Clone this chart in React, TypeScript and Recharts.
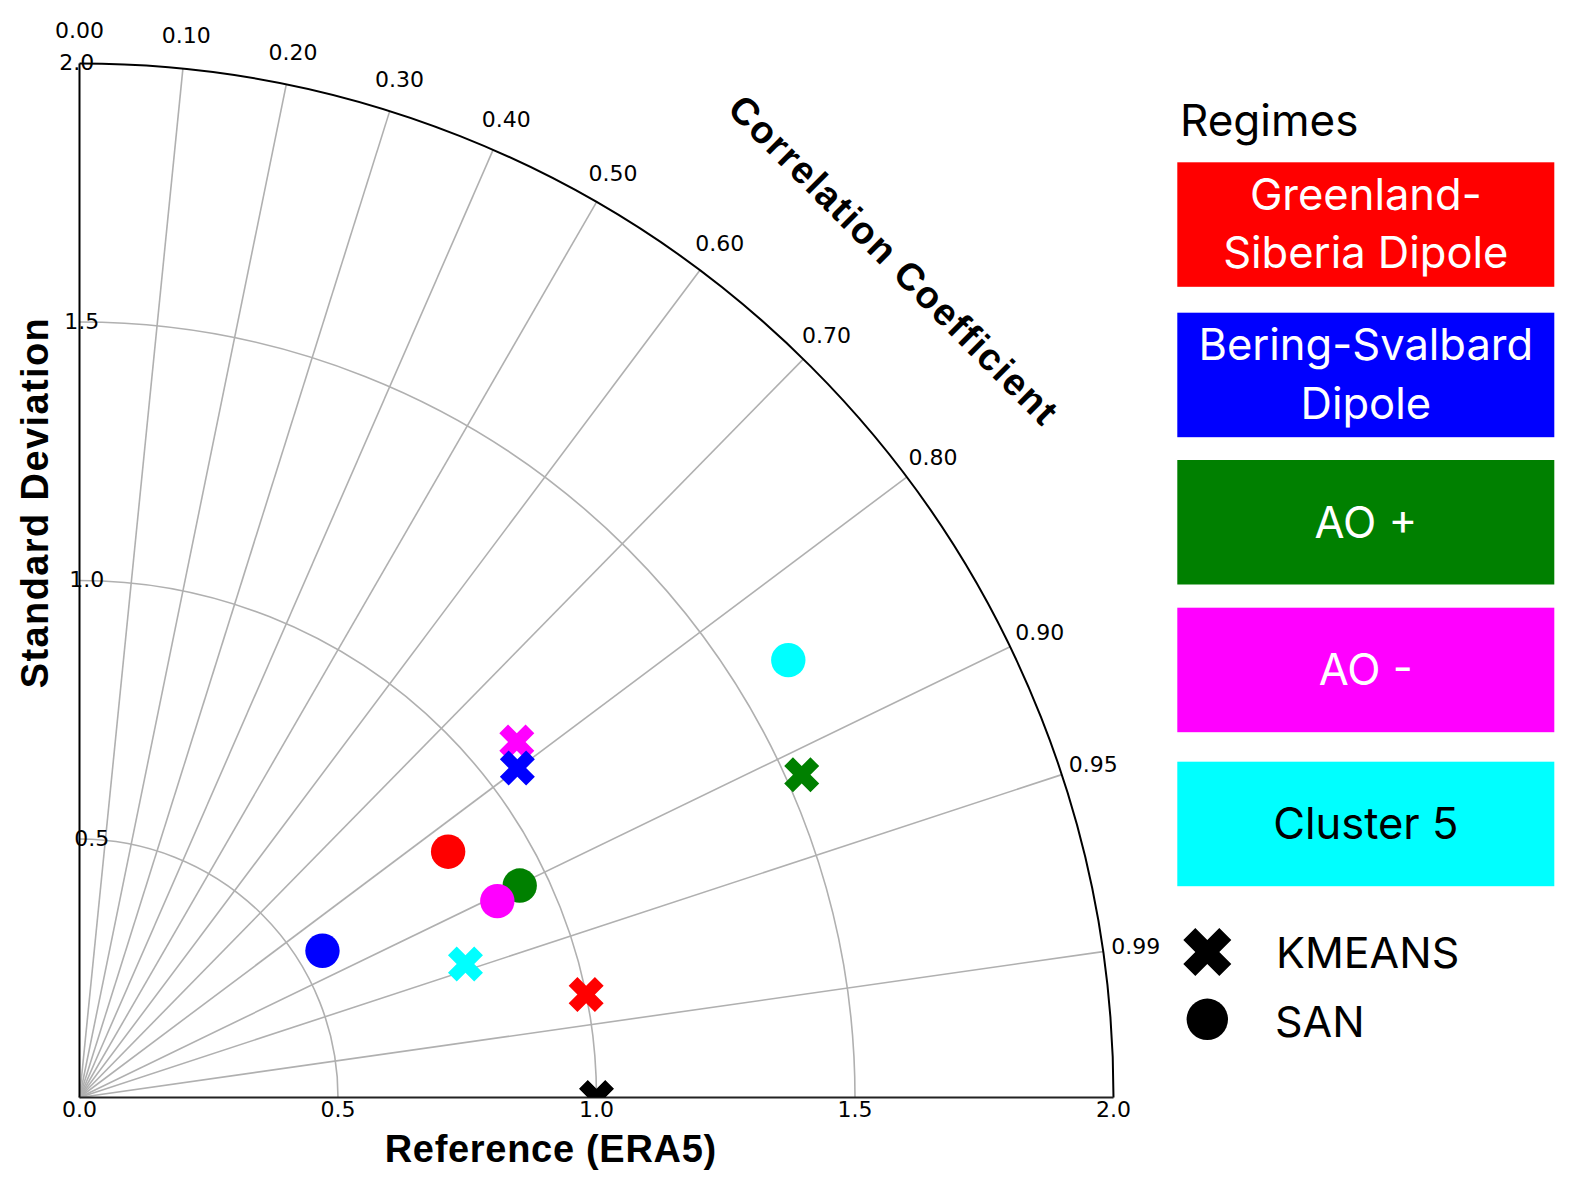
import { Customized, Scatter, ScatterChart, XAxis, YAxis } from 'recharts';

// Taylor diagram: KMEANS vs SAN regimes against ERA5.
// Each point is given as (standard deviation, correlation) and placed in
// cartesian (x = std*corr, y = std*sin(acos(corr))) so Recharts' own scales do the layout.

const regimeLines = [
  ['Greenland-', 'Siberia Dipole'],
  ['Bering-Svalbard', 'Dipole'],
  ['AO +'],
  ['AO -'],
  ['Cluster 5'],
];
const regimeColors = ['#ff0000', '#0000ff', '#008000', '#ff00ff', '#00ffff'];
const regimeTextColors = ['#ffffff', '#ffffff', '#ffffff', '#ffffff', '#000000'];

const kmeansStd = [1.0, 1.06, 1.53, 1.09, 0.79];
const kmeansCorr = [0.98, 0.799, 0.913, 0.776, 0.945];
const sanStd = [0.857, 0.549, 0.945, 0.893, 1.611];
const sanCorr = [0.832, 0.856, 0.901, 0.905, 0.851];

const refStd = 1.0;
const refCorr = 1.0;

const stdArcs = [0.5, 1.0, 1.5];
const stdTicks = [0, 0.5, 1.0, 1.5, 2.0];
const corrTicks = [0, 0.1, 0.2, 0.3, 0.4, 0.5, 0.6, 0.7, 0.8, 0.9, 0.95, 0.99];
const STD_MAX = 2.0;

// geometry of the plot square (page pixels)
const W = 1573;
const H = 1187;
const OX = 79.5;
const OY = 1097.5;
const U = 517;

const GRID = '#b0b0b0';
const TICK_FONT = '"DejaVu Sans", sans-serif';
const TITLE_FONT = '"Liberation Sans", Arial, sans-serif';
const LEGEND_FONT = 'Inter, "Open Sans", sans-serif';

const px = (v: number) => OX + v * U;
const py = (v: number) => OY - v * U;

function toPoint(std: number, corr: number, color: string) {
  return { x: std * corr, y: std * Math.sqrt(Math.max(0, 1 - corr * corr)), color };
}

const kmeansPoints = kmeansStd
  .map((s, i) => toPoint(s, kmeansCorr[i], regimeColors[i]))
  .reverse();
const sanPoints = sanStd.map((s, i) => toPoint(s, sanCorr[i], regimeColors[i]));
const refPoints = [toPoint(refStd, refCorr, '#000000')];

function crossPath(cx: number, cy: number, size: number) {
  // matplotlib's filled 'X' marker outline
  const verts = [
    [-1, -2], [0, -1], [1, -2], [2, -1], [1, 0], [2, 1],
    [1, 2], [0, 1], [-1, 2], [-2, 1], [-1, 0], [-2, -1],
  ];
  const k = size / 4;
  return verts.map(([a, b], i) => `${i ? 'L' : 'M'}${cx + a * k},${cy + b * k}`).join(' ') + ' Z';
}

function renderCross(props: any) {
  const { cx, cy, payload } = props;
  return (
    <g clipPath="url(#taylor-clip)">
      <path d={crossPath(cx, cy, 35)} fill={payload.color} />
    </g>
  );
}

function renderDot(props: any) {
  const { cx, cy, payload } = props;
  return <circle cx={cx} cy={cy} r={17.2} fill={payload.color} />;
}

function TaylorGrid() {
  const r2 = STD_MAX * U;
  const labelR = r2 + 33;
  return (
    <g>
      <defs>
        <clipPath id="taylor-clip">
          <rect x={OX} y={OY - r2} width={r2} height={r2} />
        </clipPath>
      </defs>

      {stdArcs.map((s) => (
        <path
          key={`arc-${s}`}
          d={`M ${px(s)} ${OY} A ${s * U} ${s * U} 0 0 0 ${OX} ${py(s)}`}
          fill="none"
          stroke={GRID}
          strokeWidth={1.6}
        />
      ))}

      {corrTicks
        .filter((c) => c > 0)
        .map((c) => {
          const a = Math.acos(c);
          return (
            <line
              key={`rad-${c}`}
              x1={OX}
              y1={OY}
              x2={OX + r2 * Math.cos(a)}
              y2={OY - r2 * Math.sin(a)}
              stroke={GRID}
              strokeWidth={1.6}
            />
          );
        })}

      <path
        d={`M ${px(STD_MAX)} ${OY} A ${r2} ${r2} 0 0 0 ${OX} ${py(STD_MAX)}`}
        fill="none"
        stroke="#000"
        strokeWidth={2}
      />
      <line x1={OX} y1={OY} x2={OX} y2={py(STD_MAX)} stroke="#000" strokeWidth={2} />
      <line x1={OX} y1={OY} x2={px(STD_MAX)} y2={OY} stroke="#222" strokeWidth={2.2} />

      {corrTicks.map((c) => {
        const a = Math.acos(c);
        return (
          <text
            key={`ct-${c}`}
            x={OX + labelR * Math.cos(a)}
            y={OY - labelR * Math.sin(a)}
            textAnchor="middle"
            dominantBaseline="central"
            fontFamily={TICK_FONT}
            fontSize={22}
            fill="#000"
          >
            {c.toFixed(2)}
          </text>
        );
      })}

      {stdTicks.map((s) => (
        <text
          key={`sx-${s}`}
          x={px(s)}
          y={1116.5}
          textAnchor="middle"
          fontFamily={TICK_FONT}
          fontSize={22}
          fill="#000"
        >
          {s.toFixed(1)}
        </text>
      ))}
      {stdTicks
        .filter((s) => s > 0)
        .map((s) => (
          <text
            key={`sy-${s}`}
            x={OX - 2.7 + (STD_MAX - s) * 10}
            y={py(s) - 1}
            textAnchor="middle"
            dominantBaseline="central"
            fontFamily={TICK_FONT}
            fontSize={22}
            fill="#000"
          >
            {s.toFixed(1)}
          </text>
        ))}

      <text
        x={550.8}
        y={1161.7}
        textAnchor="middle"
        fontFamily={TITLE_FONT}
        fontWeight="bold"
        fontSize={38}
        letterSpacing={0.7}
        fill="#000"
      >
        Reference (ERA5)
      </text>
      <text
        transform="translate(48 502.5) rotate(-90)"
        textAnchor="middle"
        fontFamily={TITLE_FONT}
        fontWeight="bold"
        fontSize={38}
        letterSpacing={1.4}
        fill="#000"
      >
        Standard Deviation
      </text>
      <text
        transform="translate(894 260) rotate(45)"
        textAnchor="middle"
        dy="0.35em"
        fontFamily={TITLE_FONT}
        fontWeight="bold"
        fontSize={38}
        letterSpacing={1.7}
        fill="#000"
      >
        Correlation Coefficient
      </text>
    </g>
  );
}

const boxTops = [162.3, 312.7, 460, 607.7, 761.7];

function RegimeLegend() {
  const bx = 1177.3;
  const bw = 377;
  const bh = 124.5;
  return (
    <g>
      <text x={1180} y={136} fontFamily={LEGEND_FONT} fontSize={44} fill="#000">
        Regimes
      </text>
      {regimeLines.map((lines, i) => (
        <g key={`reg-${i}`}>
          <rect x={bx} y={boxTops[i]} width={bw} height={bh} fill={regimeColors[i]} />
          {lines.map((t, j) => (
            <text
              key={t}
              x={bx + bw / 2}
              y={boxTops[i] + (lines.length === 1 ? 77.5 : 47.5 + j * 58.3)}
              textAnchor="middle"
              fontFamily={LEGEND_FONT}
              fontSize={43.5}
              fill={regimeTextColors[i]}
            >
              {t}
            </text>
          ))}
        </g>
      ))}
      <path d={crossPath(1207.3, 952, 48)} fill="#000" />
      <text x={1276} y={967.7} fontFamily={LEGEND_FONT} fontSize={43} fill="#000">
        KMEANS
      </text>
      <circle cx={1207.3} cy={1019.3} r={20.7} fill="#000" />
      <text x={1275} y={1037} fontFamily={LEGEND_FONT} fontSize={43} fill="#000">
        SAN
      </text>
    </g>
  );
}

export default function App() {
  return (
    <div style={{ position: 'absolute', left: 0, top: 0, width: W, height: H, background: '#fff' }}>
      <ScatterChart
        width={W}
        height={H}
        margin={{ top: OY - STD_MAX * U, left: OX, right: W - OX - STD_MAX * U, bottom: H - OY }}
      >
        <XAxis type="number" dataKey="x" domain={[0, STD_MAX]} hide allowDataOverflow />
        <YAxis type="number" dataKey="y" domain={[0, STD_MAX]} hide allowDataOverflow />
        <Customized component={<TaylorGrid />} />
        <Customized component={<RegimeLegend />} />
        <Scatter data={sanPoints} shape={renderDot} isAnimationActive={false} />
        <Scatter data={kmeansPoints} shape={renderCross} isAnimationActive={false} />
        <Scatter data={refPoints} shape={renderCross} isAnimationActive={false} />
      </ScatterChart>
    </div>
  );
}
